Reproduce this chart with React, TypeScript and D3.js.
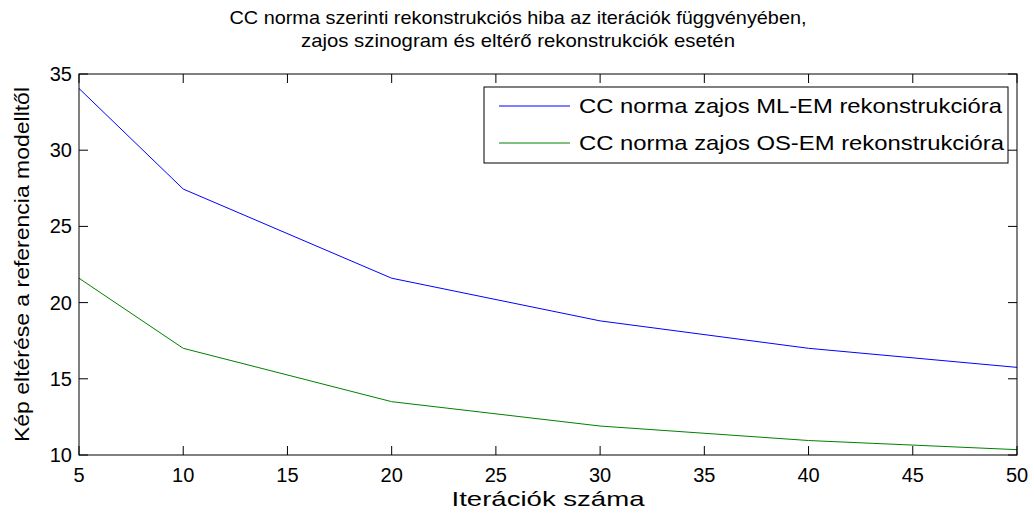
import React from "react";
import * as d3 from "d3";

// Iteration counts and reconstruction error per method
const iterations = [5, 10, 20, 30, 40, 50];
const mlemError = [34.05, 27.45, 21.6, 18.8, 17.0, 15.75];
const osemError = [21.6, 17.0, 13.5, 11.9, 10.95, 10.35];

const xTicks = [5, 10, 15, 20, 25, 30, 35, 40, 45, 50];
const yTicks = [10, 15, 20, 25, 30, 35];

const seriesNames = [
  "CC norma zajos ML-EM rekonstrukcióra",
  "CC norma zajos OS-EM rekonstrukcióra",
];
const seriesColors = ["#0000ff", "#008000"];

const titleLines = [
  "CC norma szerinti rekonstrukciós hiba az iterációk függvényében,",
  "zajos szinogram és eltérő rekonstrukciók esetén",
];
const xLabel = "Iterációk száma";
const yLabel = "Kép eltérése a referencia modelltől";

const W = 1034;
const H = 519;
const M = { left: 79, right: 1017, top: 74, bottom: 455 };
const FONT = "'Liberation Sans', Arial, Helvetica, sans-serif";
const TICK = 9;

// the figure's text is set slightly wide; these are the drawn string widths
const titleWidths = [577, 434];
const legendTextWidths = [423, 425];
const xLabelWidth = 193;
const yLabelWidth = 355;

export default function App() {
  const x = d3.scaleLinear().domain([5, 50]).range([M.left, M.right]);
  const y = d3.scaleLinear().domain([10, 35]).range([M.bottom, M.top]);
  const line = d3
    .line<number>()
    .x((_, i) => x(iterations[i]))
    .y((d) => y(d));
  const series = [mlemError, osemError];

  const legend = { x0: 484, x1: 1008, y0: 87, y1: 163 };
  const legendRows = [106, 143];

  return (
    <svg
      width={W}
      height={H}
      style={{ position: "absolute", left: 0, top: 0, background: "#fff" }}
      fontFamily={FONT}
    >
      <rect x={0} y={0} width={W} height={H} fill="#fff" />
      {/* title */}
      {titleLines.map((t, i) => (
        <text
          key={i}
          x={(M.left + M.right) / 2 - 30}
          y={24 + i * 23}
          textAnchor="middle"
          fontSize={19}
          textLength={titleWidths[i]}
          lengthAdjust="spacingAndGlyphs"
          fill="#000"
        >
          {t}
        </text>
      ))}

      {/* data lines */}
      {series.map((s, i) => (
        <path
          key={i}
          d={line(s) ?? ""}
          fill="none"
          stroke={seriesColors[i]}
          strokeWidth={1}
        />
      ))}

      {/* ticks on all four sides, pointing inward */}
      {xTicks.map((t) => (
        <g key={"x" + t}>
          <line x1={x(t)} x2={x(t)} y1={M.bottom} y2={M.bottom - TICK} stroke="#000" />
          <line x1={x(t)} x2={x(t)} y1={M.top} y2={M.top + TICK} stroke="#000" />
          <text x={x(t)} y={M.bottom + 27} textAnchor="middle" fontSize={20}>
            {t}
          </text>
        </g>
      ))}
      {yTicks.map((t) => (
        <g key={"y" + t}>
          <line x1={M.left} x2={M.left + TICK} y1={y(t)} y2={y(t)} stroke="#000" />
          <line x1={M.right} x2={M.right - TICK} y1={y(t)} y2={y(t)} stroke="#000" />
          <text x={M.left - 7} y={y(t) + 7} textAnchor="end" fontSize={20}>
            {t}
          </text>
        </g>
      ))}

      {/* axes box */}
      <rect
        x={M.left}
        y={M.top}
        width={M.right - M.left}
        height={M.bottom - M.top}
        fill="none"
        stroke="#000"
        strokeWidth={1}
      />

      {/* legend */}
      <rect
        x={legend.x0}
        y={legend.y0}
        width={legend.x1 - legend.x0}
        height={legend.y1 - legend.y0}
        fill="#fff"
        stroke="#000"
      />
      {seriesNames.map((n, i) => (
        <g key={n}>
          <line
            x1={499}
            x2={570}
            y1={legendRows[i]}
            y2={legendRows[i]}
            stroke={seriesColors[i]}
          />
          <text
            x={579}
            y={legendRows[i] + 7}
            fontSize={21}
            textLength={legendTextWidths[i]}
            lengthAdjust="spacingAndGlyphs"
          >
            {n}
          </text>
        </g>
      ))}

      {/* axis labels */}
      <text
        x={(M.left + M.right) / 2}
        y={506}
        textAnchor="middle"
        fontSize={21}
        textLength={xLabelWidth}
        lengthAdjust="spacingAndGlyphs"
      >
        {xLabel}
      </text>
      <text
        transform={`translate(29, ${(M.top + M.bottom) / 2}) rotate(-90)`}
        textAnchor="middle"
        fontSize={21}
        textLength={yLabelWidth}
        lengthAdjust="spacingAndGlyphs"
      >
        {yLabel}
      </text>
    </svg>
  );
}
